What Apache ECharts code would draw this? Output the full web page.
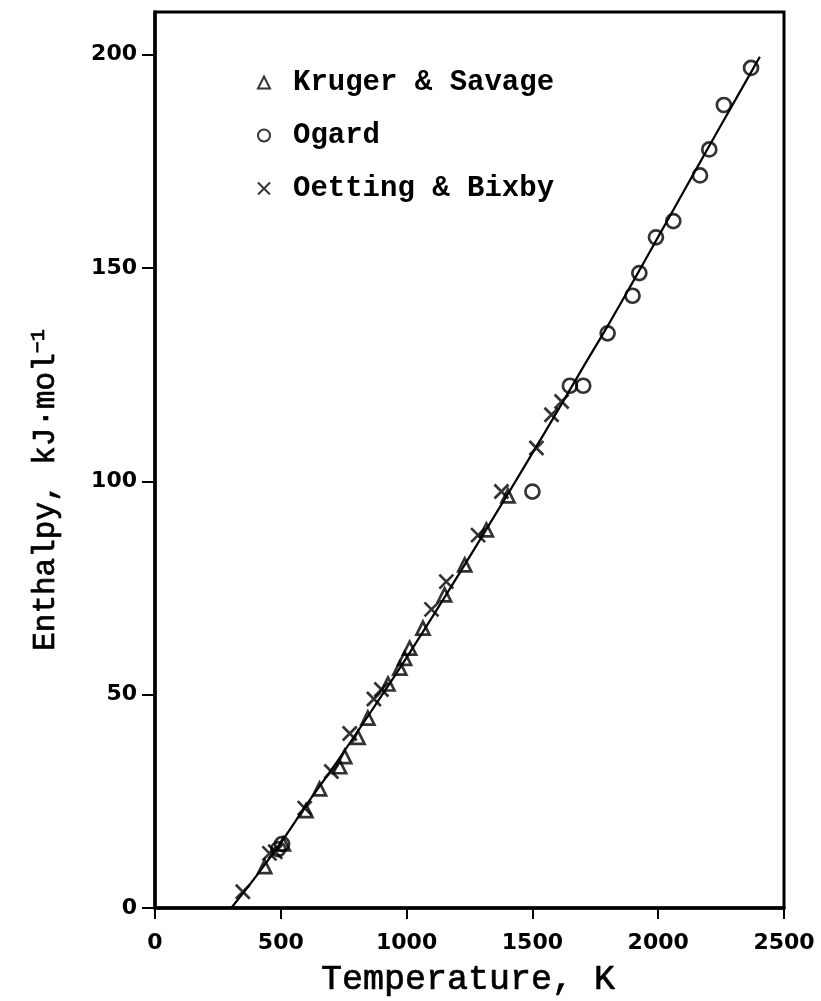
<!DOCTYPE html>
<html>
<head>
<meta charset="utf-8">
<script src="https://cdn.jsdelivr.net/npm/echarts@6/dist/echarts.min.js"></script>
<style>
  html, body { margin: 0; padding: 0; background: #fff; }
  #chart { width: 821px; height: 1001px; }
</style>
</head>
<body>
<div id="chart"></div>
<script>
// Enthalpy H(T) - H(298 K), kJ/mol, against temperature in K
const seriesNames = ['Kruger & Savage', 'Ogard', 'Oetting & Bixby'];

// Kruger & Savage (triangles): [T, H]
const krugerSavage = [
  [436, 9.7], [510, 15.0], [600, 22.8], [654, 27.9], [734, 33.1], [754, 35.5],
  [807, 40.0], [846, 44.5], [926, 52.5], [973, 56.2], [992, 58.5], [1012, 60.9],
  [1065, 65.6], [1151, 73.4], [1231, 80.4], [1317, 88.6], [1403, 96.6]
];

// Ogard (circles)
const ogard = [
  [490, 13.8], [505, 15.0], [1500, 97.6], [1649, 122.4], [1702, 122.4],
  [1799, 134.7], [1898, 143.5], [1925, 148.8], [1991, 157.2], [2060, 161.0],
  [2166, 171.7], [2203, 177.8], [2261, 188.2], [2369, 196.9]
];

// Oetting & Bixby (crosses)
const oettingBixby = [
  [349, 3.8], [455, 12.8], [478, 13.2], [595, 23.4], [701, 32.0], [774, 40.9],
  [870, 49.0], [900, 51.2], [1099, 70.0], [1158, 76.5], [1284, 87.4],
  [1377, 97.6], [1516, 107.8], [1576, 115.6], [1616, 118.7]
];

// Smoothed enthalpy curve
const fitCurve = [
  [303, 0], [400, 7.3], [500, 15.3], [600, 24.0], [700, 32.3], [800, 40.9],
  [900, 49.7], [1000, 58.7], [1100, 68.0], [1200, 77.5], [1300, 87.1],
  [1400, 96.8], [1500, 106.6], [1600, 116.5], [1700, 126.6], [1800, 136.5],
  [1900, 146.8], [2000, 157.3], [2100, 167.8], [2200, 178.3], [2300, 188.7],
  [2404, 199.5]
];

const xTicks = [0, 500, 1000, 1500, 2000, 2500];
const yTicks = [0, 50, 100, 150, 200];

const crossPath = 'path://M0,0L10,10M10,0L0,10';
const hollow = { color: 'transparent', borderColor: '#000', borderWidth: 2.7 };
const tickFont = { fontFamily: 'DejaVu Sans', fontWeight: 'bold', fontSize: 22, color: '#000' };
const plain = v => String(v);

const chart = echarts.init(document.getElementById('chart'), null, { renderer: 'canvas' });

chart.setOption({
  backgroundColor: '#fff',
  animation: false,
  grid: {
    left: 155, right: 37, top: 12, bottom: 93,
    show: true, borderColor: '#000', borderWidth: 3, backgroundColor: 'transparent'
  },
  legend: {
    orient: 'vertical',
    left: 252, top: 62,
    itemWidth: 12, itemHeight: 12,
    itemGap: 22,
    textStyle: {
      fontFamily: 'Liberation Mono', fontWeight: 'bold', fontSize: 29, color: '#000',
      lineHeight: 31, padding: [0, 0, 0, 18]
    },
    data: [
      { name: seriesNames[0], icon: 'triangle', itemStyle: { color: 'transparent', borderColor: '#000', borderWidth: 2 } },
      { name: seriesNames[1], icon: 'circle', itemStyle: { color: 'transparent', borderColor: '#000', borderWidth: 2 } },
      { name: seriesNames[2], icon: crossPath, itemStyle: { color: 'transparent', borderColor: '#000', borderWidth: 2 } }
    ]
  },
  xAxis: {
    type: 'value', min: 0, max: 2500, interval: 500,
    axisLine: { show: true, onZero: false, lineStyle: { color: '#000', width: 3.5 } },
    axisTick: { show: true, length: 11, lineStyle: { color: '#000', width: 2 } },
    axisLabel: Object.assign({ margin: 24, customValues: xTicks, formatter: plain }, tickFont),
    splitLine: { show: false }
  },
  yAxis: {
    type: 'value', min: 0, max: 210, interval: 50,
    axisLine: { show: true, onZero: false, lineStyle: { color: '#000', width: 3.5 } },
    axisTick: { show: true, length: 13, lineStyle: { color: '#000', width: 2 }, customValues: yTicks },
    axisLabel: Object.assign({ margin: 18, customValues: yTicks, formatter: plain }, tickFont),
    splitLine: { show: false }
  },
  graphic: [
    {
      type: 'text', x: 468, y: 980,
      style: {
        text: 'Temperature, K',
        align: 'center', verticalAlign: 'middle',
        fontFamily: 'Liberation Mono', fontSize: 35, fill: '#000',
        stroke: '#000', lineWidth: 0.7
      }
    },
    {
      type: 'text', x: 46, y: 490, rotation: Math.PI / 2,
      style: {
        text: 'Enthalpy, kJ·mol{sup|−1}',
        align: 'center', verticalAlign: 'middle',
        fontFamily: 'Liberation Mono', fontSize: 31, fill: '#000',
        stroke: '#000', lineWidth: 0.7,
        rich: {
          sup: { fontFamily: 'Liberation Mono', fontSize: 20, verticalAlign: 'top', padding: [0, 0, 14, 0] }
        }
      }
    }
  ],
  series: [
    {
      name: 'fit', type: 'line', data: fitCurve, smooth: 0.4,
      showSymbol: false, symbol: 'none', z: 1,
      lineStyle: { color: '#000', width: 2.2 }
    },
    {
      name: seriesNames[0], type: 'scatter', data: krugerSavage,
      symbol: 'triangle', symbolSize: 13, itemStyle: hollow, z: 3
    },
    {
      name: seriesNames[1], type: 'scatter', data: ogard,
      symbol: 'circle', symbolSize: 14, itemStyle: hollow, z: 3
    },
    {
      name: seriesNames[2], type: 'scatter', data: oettingBixby,
      symbol: crossPath, symbolSize: 14, itemStyle: hollow, z: 3
    }
  ]
});
</script>
</body>
</html>
